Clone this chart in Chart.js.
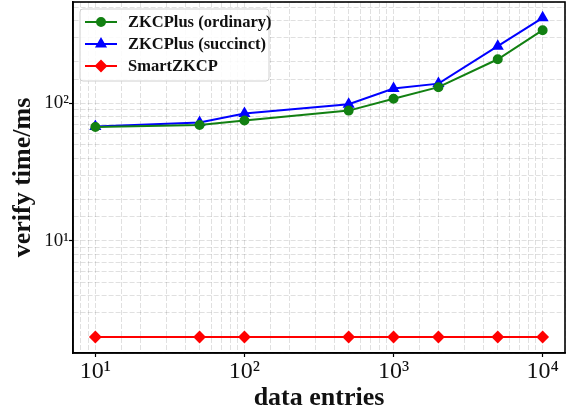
<!DOCTYPE html>
<html>
<head>
<meta charset="utf-8">
<script src="https://cdn.jsdelivr.net/npm/chart.js@4.4.1/dist/chart.umd.min.js"></script>
<style>
  html, body { margin: 0; padding: 0; background: #fff; }
  #wrap { width: 575px; height: 416px; }
</style>
</head>
<body>
<div id="wrap"><canvas id="chart"></canvas></div>
<script>
const entries = [10, 50, 100, 500, 1000, 2000, 5000, 10000];
const ordinary = [67.3, 69.6, 75, 88.5, 108, 131, 209, 340];
const succinct = [67.8, 72.4, 84.2, 98.4, 128, 139, 260, 418];
const smartzkcp = [2, 2, 2, 2, 2, 2, 2, 2];

const seriesNames = ["ZKCPlus (ordinary)", "ZKCPlus (succinct)", "SmartZKCP"];
const xTitle = "data entries";
const yTitle = "verify time/ms";

const SERIF = "'Liberation Serif', 'DejaVu Serif', serif";
const sup = { 0: "⁰", 1: "¹", 2: "²", 3: "³", 4: "⁴" };

function toPoints(ys) {
  return entries.map((x, i) => ({ x: x, y: ys[i] }));
}

function powLabel(v) {
  const e = Math.round(Math.log10(v));
  if (Math.abs(v - Math.pow(10, e)) < 1e-6 * v) return "10" + sup[e];
  return "";
}

const gridOpts = {
  color: "rgba(0,0,0,0.12)",
  lineWidth: 1,
  tickLength: 4,
  tickColor: (c) => (c.tick && c.tick.major ? "#000" : "rgba(0,0,0,0)"),
  tickWidth: 1.2,
};

// inside-plot legend + full frame
const framePlugin = {
  id: "frame",
  afterDraw(chart) {
    const { ctx, chartArea: a } = chart;
    ctx.save();
    ctx.strokeStyle = "#000";
    ctx.lineWidth = 1.6;
    ctx.strokeRect(a.left, a.top, a.right - a.left, a.bottom - a.top);

    // legend box
    const bx = a.left + 7, by = a.top + 7, bw = 189, bh = 72;
    ctx.fillStyle = "rgba(255,255,255,0.85)";
    ctx.strokeStyle = "#d0d0d0";
    ctx.lineWidth = 1;
    ctx.beginPath();
    ctx.roundRect(bx, by, bw, bh, 3);
    ctx.fill();
    ctx.stroke();

    ctx.font = "bold 16.5px " + SERIF;
    ctx.textBaseline = "middle";
    chart.data.datasets.forEach((ds, i) => {
      const y = by + 13 + i * 22;
      ctx.strokeStyle = ds.borderColor;
      ctx.fillStyle = ds.backgroundColor;
      ctx.lineWidth = 2;
      ctx.beginPath();
      ctx.moveTo(bx + 5, y);
      ctx.lineTo(bx + 37, y);
      ctx.stroke();
      Chart.helpers.drawPoint(ctx, {
        pointStyle: ds.pointStyle,
        radius: ds.pointRadius,
        rotation: 0,
        borderWidth: 1,
      }, bx + 21, y);
      ctx.fillStyle = "#111";
      ctx.fillText(ds.label, bx + 48, y + 1);
    });
    ctx.restore();
  },
};

new Chart(document.getElementById("chart"), {
  type: "line",
  data: {
    datasets: [
      {
        label: seriesNames[0],
        data: toPoints(ordinary),
        borderColor: "#128012",
        backgroundColor: "#128012",
        pointStyle: "circle",
        pointRadius: 4,
        borderWidth: 2,
      },
      {
        label: seriesNames[1],
        data: toPoints(succinct),
        borderColor: "#0000ff",
        backgroundColor: "#0000ff",
        pointStyle: "triangle",
        pointRadius: 5,
        borderWidth: 2,
      },
      {
        label: seriesNames[2],
        data: toPoints(smartzkcp),
        borderColor: "#ff0000",
        backgroundColor: "#ff0000",
        pointStyle: "rectRot",
        pointRadius: 5,
        borderWidth: 2,
      },
    ],
  },
  options: {
    responsive: true,
    maintainAspectRatio: false,
    animation: false,
    layout: { autoPadding: false, padding: { top: 2, right: 10, left: 0, bottom: 0 } },
    plugins: {
      legend: { display: false },
      tooltip: { enabled: false },
    },
    elements: { line: { tension: 0 } },
    scales: {
      x: {
        type: "logarithmic",
        min: 7.08,
        max: 14125,
        afterFit: (s) => {
          s.height = 63;
          s.paddingLeft = 0;
          s.paddingRight = 0;
        },
        grid: Object.assign({}, gridOpts),
        border: { display: true, color: "#000", width: 1.6, dash: [5, 2] },
        ticks: {
          autoSkip: false,
          maxRotation: 0,
          padding: 0,
          color: "#111",
          font: { family: SERIF, size: 24 },
          callback: (v) => powLabel(v),
        },
        title: {
          display: true,
          text: xTitle,
          color: "#111",
          font: { family: SERIF, size: 26, weight: "bold" },
          padding: { top: 2, bottom: 2 },
        },
      },
      y: {
        type: "logarithmic",
        min: 1.53,
        max: 545,
        afterFit: (s) => {
          s.width = 73;
          s.paddingTop = 0;
          s.paddingBottom = 0;
        },
        grid: Object.assign({}, gridOpts),
        border: { display: true, color: "#000", width: 1.6, dash: [5, 2] },
        ticks: {
          autoSkip: false,
          padding: 0,
          color: "#111",
          font: { family: SERIF, size: 19 },
          callback: (v) => powLabel(v),
        },
        title: {
          display: true,
          text: yTitle,
          color: "#111",
          font: { family: SERIF, size: 26, weight: "bold" },
          padding: { top: 8, bottom: 8 },
        },
      },
    },
  },
  plugins: [framePlugin],
});
</script>
</body>
</html>
